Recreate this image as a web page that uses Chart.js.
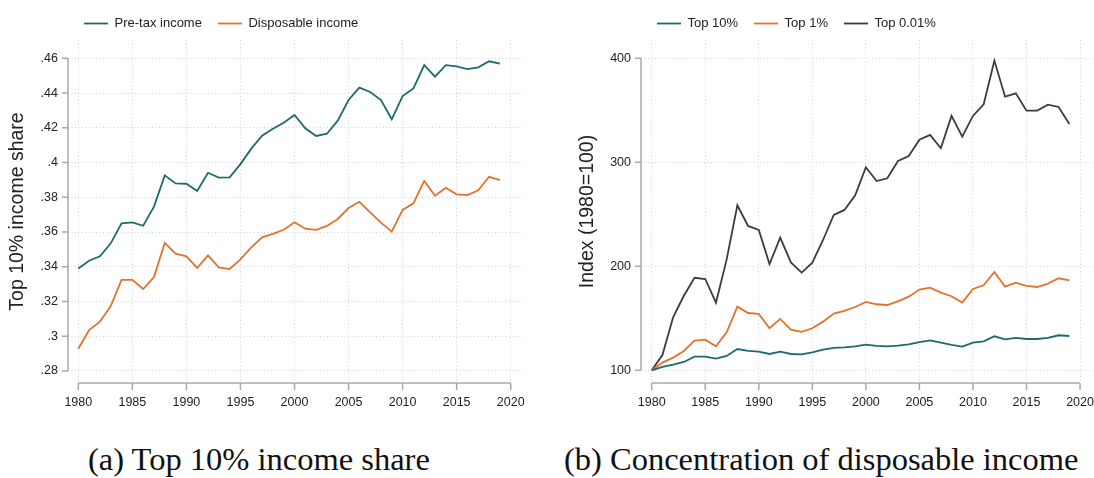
<!DOCTYPE html>
<html>
<head>
<meta charset="utf-8">
<script src="https://cdn.jsdelivr.net/npm/chart.js@4.4.1/dist/chart.umd.min.js"></script>
<style>
  html, body { margin: 0; padding: 0; background: #fff; }
  body { width: 1094px; height: 478px; position: relative; overflow: hidden; }
  .panel { position: absolute; top: 0; width: 547px; height: 430px; overflow: hidden; }
  .caption {
    position: absolute; top: 443px; white-space: nowrap;
    font-family: 'Liberation Serif', 'DejaVu Serif', serif; font-size: 32.5px; line-height: 32.5px; color: #111;
  }
</style>
</head>
<body>
<div class="panel" style="left:0"><canvas id="share" width="547" height="430"></canvas></div>
<div class="panel" style="left:547px"><canvas id="index" width="560" height="430"></canvas></div>
<div class="caption" style="left:88px">(a) Top 10% income share</div>
<div class="caption" style="left:564px">(b) Concentration of disposable income</div>
<script>
// data
const years = [1980, 1981, 1982, 1983, 1984, 1985, 1986, 1987, 1988, 1989,
               1990, 1991, 1992, 1993, 1994, 1995, 1996, 1997, 1998, 1999,
               2000, 2001, 2002, 2003, 2004, 2005, 2006, 2007, 2008, 2009,
               2010, 2011, 2012, 2013, 2014, 2015, 2016, 2017, 2018, 2019];

const preTax = [0.339, 0.3435, 0.346, 0.3535, 0.365, 0.3656, 0.3636, 0.3746, 0.3926, 0.388,
                0.3878, 0.3836, 0.3941, 0.3913, 0.3915, 0.3991, 0.408, 0.4154, 0.4195, 0.4229,
                0.4274, 0.4197, 0.4153, 0.4166, 0.4241, 0.436, 0.4431, 0.4406, 0.436, 0.4249,
                0.4383, 0.4427, 0.4561, 0.4494, 0.4561, 0.4554, 0.4538, 0.4548, 0.4583, 0.4569];
const disposable = [0.2928, 0.3036, 0.3084, 0.3174, 0.3325, 0.3325, 0.3272, 0.3341, 0.3537, 0.3475,
                    0.346, 0.3393, 0.3466, 0.3397, 0.3387, 0.3443, 0.3512, 0.3569, 0.3589, 0.3613,
                    0.3656, 0.3619, 0.3612, 0.3635, 0.3675, 0.3738, 0.3774, 0.3713, 0.3654, 0.3602,
                    0.3727, 0.3765, 0.3894, 0.3809, 0.3855, 0.3817, 0.3813, 0.384, 0.3918, 0.3899];

const top10 = [100, 103.2, 105.4, 108, 113.1, 113.1, 111.2, 113.8, 120.5, 118.6,
               117.9, 115.7, 117.9, 115.7, 115.4, 117.3, 119.9, 121.5, 122.1, 123.1,
               124.7, 123.4, 123.1, 123.7, 125, 127.2, 128.8, 126.6, 124.4, 122.8,
               126.6, 127.9, 132.7, 129.8, 131.1, 130.1, 130.1, 131.1, 133.7, 133];
const top1 = [100, 107.4, 112.2, 118.6, 128.5, 129.5, 123.1, 136.5, 161.2, 155.1,
              154.2, 140.4, 149.4, 139.1, 136.9, 140.4, 146.8, 154.5, 157.1, 160.9,
              165.7, 163.5, 162.8, 166.3, 170.8, 177.6, 179.5, 174.7, 171.2, 165.1,
              178.2, 181.7, 194.6, 180.4, 184.3, 181.1, 180.1, 183.3, 188.5, 186.5];
const top001 = [100, 114.7, 151, 171.7, 189, 187.8, 165, 206.7, 258.7, 238.8,
                235, 202.2, 227.6, 203.8, 194, 203.5, 225.3, 249.4, 254.2, 268.3,
                295.2, 282, 284.6, 301.3, 306.1, 321.8, 326.3, 313.5, 344.6, 324.7,
                344.6, 355.8, 397.8, 363.1, 366.3, 349.7, 349.7, 355.4, 353.2, 336.9];

const xTicks = [1980, 1985, 1990, 1995, 2000, 2005, 2010, 2015, 2020];
const shareTicks = [0.28, 0.30, 0.32, 0.34, 0.36, 0.38, 0.40, 0.42, 0.44, 0.46];
const shareLabels = ['.28', '.3', '.32', '.34', '.36', '.38', '.4', '.42', '.44', '.46'];
const indexTicks = [100, 200, 300, 400];
const indexLabels = ['100', '200', '300', '400'];

const TEAL = '#1d6b6d';
const ORANGE = '#e2722d';
const DARK = '#3c3c3c';
const AXIS = '#a9a9a9';
const GRID = '#d2d2d2';
const SANS = "'Liberation Sans', Arial, sans-serif";

// Stata-like axes: the line only spans the first to last tick
const stataAxes = {
  id: 'stataAxes',
  afterDatasetsDraw(chart) {
    const {ctx, chartArea, scales} = chart;
    const xs = scales.x.ticks.map(t => scales.x.getPixelForValue(t.value));
    const ys = scales.y.ticks.map(t => scales.y.getPixelForValue(t.value));
    ctx.save();
    ctx.strokeStyle = AXIS;
    ctx.lineWidth = 1.5;
    ctx.beginPath();
    ctx.moveTo(xs[0], chartArea.bottom);
    ctx.lineTo(xs[xs.length - 1], chartArea.bottom);
    xs.forEach(px => { ctx.moveTo(px, chartArea.bottom); ctx.lineTo(px, chartArea.bottom + 7); });
    ctx.moveTo(chartArea.left, ys[0]);
    ctx.lineTo(chartArea.left, ys[ys.length - 1]);
    ys.forEach(py => { ctx.moveTo(chartArea.left, py); ctx.lineTo(chartArea.left - 6, py); });
    ctx.stroke();
    ctx.restore();
  }
};

function series(label, values, color) {
  return {
    label: label,
    data: years.map((yr, i) => ({x: yr, y: values[i]})),
    borderColor: color,
    backgroundColor: color,
    borderWidth: 1.8,
    pointRadius: 0,
    pointStyle: 'line',
    tension: 0
  };
}

function makeChart(id, datasets, opts) {
  return new Chart(document.getElementById(id), {
    type: 'line',
    data: {datasets: datasets},
    plugins: [stataAxes],
    options: {
      responsive: false,
      animation: false,
      devicePixelRatio: 1,
      layout: {padding: {top: 1, bottom: 0, left: 0, right: opts.padRight}},
      plugins: {
        tooltip: {enabled: false},
        legend: {
          position: 'top',
          align: 'start',
          fullSize: false,
          labels: {
            usePointStyle: true,
            pointStyleWidth: 24,
            padding: 16,
            color: '#222',
            font: {family: SANS, size: 13}
          }
        }
      },
      scales: {
        x: {
          type: 'linear',
          min: opts.xMin,
          max: opts.xMax,
          afterBuildTicks: s => { s.ticks = xTicks.map(v => ({value: v})); },
          afterFit: s => { s.height = 47; },
          grid: {color: GRID, lineWidth: 1, drawTicks: false},
          border: {display: false, dash: [1, 2.5]},
          ticks: {
            autoSkip: false, maxRotation: 0, padding: 12, color: '#222',
            font: {family: SANS, size: 12.5},
            callback: v => String(v)
          }
        },
        y: {
          min: opts.yMin,
          max: opts.yMax,
          afterBuildTicks: s => { s.ticks = opts.yTicks.map(v => ({value: v})); },
          afterFit: s => { s.width = opts.yWidth; },
          grid: {color: GRID, lineWidth: 1, drawTicks: false},
          border: {display: false, dash: [1, 2.5]},
          ticks: {
            padding: 10, color: '#222',
            font: {family: SANS, size: 12.5},
            callback: (v, i) => opts.yLabels[i]
          },
          title: {
            display: true,
            text: opts.yTitle,
            color: '#222',
            padding: {top: opts.titlePad, bottom: 0},
            font: {family: SANS, size: 19.5}
          }
        }
      }
    }
  });
}

makeChart('share', [
  series('Pre-tax income', preTax, TEAL),
  series('Disposable income', disposable, ORANGE)
], {
  xMin: 1979.047, xMax: 2020.953,
  yMin: 0.27309, yMax: 0.47054,
  yTicks: shareTicks, yLabels: shareLabels,
  yWidth: 68, titlePad: 6, padRight: 26,
  yTitle: 'Top 10% income share'
});

makeChart('index', [
  series('Top 10%', top10, TEAL),
  series('Top 1%', top1, ORANGE),
  series('Top 0.01%', top001, DARK)
], {
  xMin: 1979.0, xMax: 2021.21,
  yMin: 87.8, yMax: 417.6,
  yTicks: indexTicks, yLabels: indexLabels,
  yWidth: 94, titlePad: 29, padRight: 14,
  yTitle: 'Index (1980=100)'
});
</script>
</body>
</html>
